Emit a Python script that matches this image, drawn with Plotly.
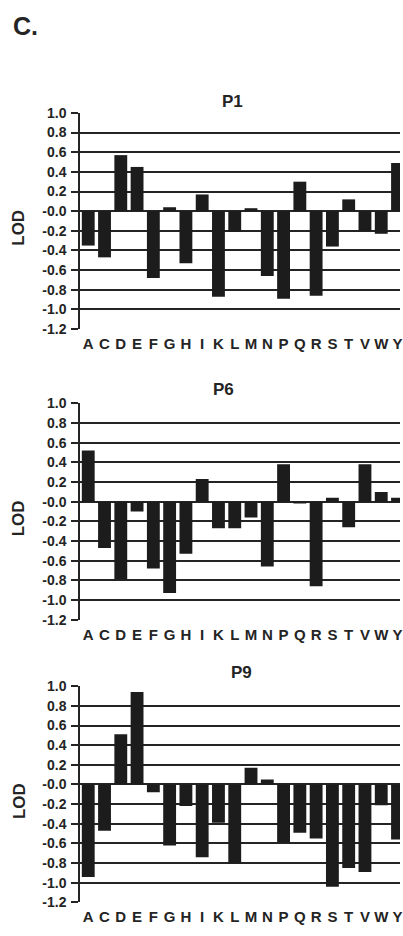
import plotly.graph_objects as go

letters = ["A", "C", "D", "E", "F", "G", "H", "I", "K", "L",
           "M", "N", "P", "Q", "R", "S", "T", "V", "W", "Y"]

p1_values = [-0.35, -0.47, 0.57, 0.45, -0.68, 0.04, -0.53, 0.17, -0.87, -0.21,
             0.03, -0.66, -0.89, 0.30, -0.86, -0.36, 0.12, -0.20, -0.23, 0.49]
p6_values = [0.52, -0.47, -0.79, -0.10, -0.68, -0.93, -0.53, 0.23, -0.27, -0.27,
             -0.16, -0.66, 0.38, -0.01, -0.86, 0.04, -0.26, 0.38, 0.10, 0.04]
p9_values = [-0.94, -0.47, 0.51, 0.94, -0.08, -0.62, -0.22, -0.74, -0.39, -0.80,
             0.17, 0.05, -0.59, -0.49, -0.55, -1.04, -0.85, -0.89, -0.21, -0.56]

panel_titles = ["P1", "P6", "P9"]
y_tick_vals = [-1.2, -1.0, -0.8, -0.6, -0.4, -0.2, 0.0, 0.2, 0.4, 0.6, 0.8, 1.0]
y_tick_text = ["-1.2", "-1.0", "-0.8", "-0.6", "-0.4", "-0.2", "-0.0",
               "0.2", "0.4", "0.6", "0.8", "1.0"]
y_label = "LOD"
panel_letter = "C."

W, H = 403, 936
FONT = "Liberation Sans, Arial, sans-serif"
DARK = "#242424"
BAR = "#1c1c1c"

# pixel layout of the three plot areas (top, bottom)
panels_px = [(106.7, 326.7), (402.3, 622.3), (690.0, 910.0)]
title_px = [(234, 95), (225, 388), (243, 676)]
x_left_px = 80.7
cat_px = 16.4
x_range = [-0.5, -0.5 + (W - x_left_px) / cat_px]
y_range = [-1.2, 1.0]

fig = go.Figure()
series = [p1_values, p6_values, p9_values]
for i, vals in enumerate(series):
    n = i + 1
    fig.add_trace(go.Bar(
        x=letters, y=vals,
        xaxis="x" if n == 1 else f"x{n}",
        yaxis="y" if n == 1 else f"y{n}",
        marker=dict(color=BAR, line=dict(width=0)),
        showlegend=False,
    ))

layout = dict(
    width=W, height=H,
    margin=dict(l=0, r=0, t=0, b=0),
    paper_bgcolor="white", plot_bgcolor="white",
    bargap=0.21,
    font=dict(family=FONT, color=DARK),
)

annotations = []
xdom = [x_left_px / W, 1.0]
for i, (top, bot) in enumerate(panels_px):
    n = i + 1
    sfx = "" if n == 1 else str(n)
    ydom = [1 - bot / H, 1 - top / H]
    layout[f"xaxis{sfx}"] = dict(
        domain=xdom, anchor=f"y{sfx}", type="category",
        range=x_range, showgrid=False, zeroline=False, showline=False,
        tickmode="array", tickvals=letters, ticktext=letters,
        ticks="", ticklabelstandoff=4,
        tickfont=dict(size=15, family=FONT, weight="bold", color=DARK),
        fixedrange=True,
    )
    layout[f"yaxis{sfx}"] = dict(
        domain=ydom, anchor=f"x{sfx}", range=y_range,
        tickmode="array", tickvals=y_tick_vals, ticktext=y_tick_text,
        showgrid=True, gridcolor=DARK, gridwidth=1.7,
        zeroline=True, zerolinecolor=DARK, zerolinewidth=1.9,
        showline=True, linecolor=DARK, linewidth=1.7,
        ticks="outside", ticklen=7, tickwidth=1.6, tickcolor=DARK,
        ticklabelstandoff=2,
        tickfont=dict(size=14, family=FONT, weight="bold", color=DARK),
        fixedrange=True,
    )
    # category tick marks on the zero line
    zero_pos = ydom[0] + (0 - y_range[0]) / (y_range[1] - y_range[0]) * (ydom[1] - ydom[0])
    layout[f"xaxis{n + 3}"] = dict(
        domain=xdom, anchor="free", position=zero_pos, type="linear",
        overlaying="x" if n == 1 else f"x{n}", side="bottom",
        range=x_range, tickmode="array", tickvals=list(range(len(letters))),
        showticklabels=False, ticks="outside", ticklen=5, tickwidth=1.5,
        tickcolor=DARK, showgrid=False, zeroline=False, showline=False,
        fixedrange=True,
    )
    tx, ty = title_px[i]
    annotations.append(dict(
        text=panel_titles[i], x=tx / W, y=1 - ty / H, xref="paper", yref="paper",
        xanchor="center", yanchor="middle", showarrow=False,
        font=dict(size=17, family=FONT, weight="bold", color=DARK),
    ))
    annotations.append(dict(
        text=y_label, x=19 / W, y=1 - ((top + bot) / 2 + 7) / H,
        xref="paper", yref="paper", xanchor="center", yanchor="middle",
        textangle=-90, showarrow=False,
        font=dict(size=17, family=FONT, weight="bold", color=DARK),
    ))

annotations.append(dict(
    text=panel_letter, x=11 / W, y=1 - 18 / H, xref="paper", yref="paper",
    xanchor="left", yanchor="middle", showarrow=False,
    font=dict(size=25, family=FONT, weight="bold", color=DARK),
))
layout["annotations"] = annotations
fig.update_layout(**layout)

fig.write_html("out.html")
